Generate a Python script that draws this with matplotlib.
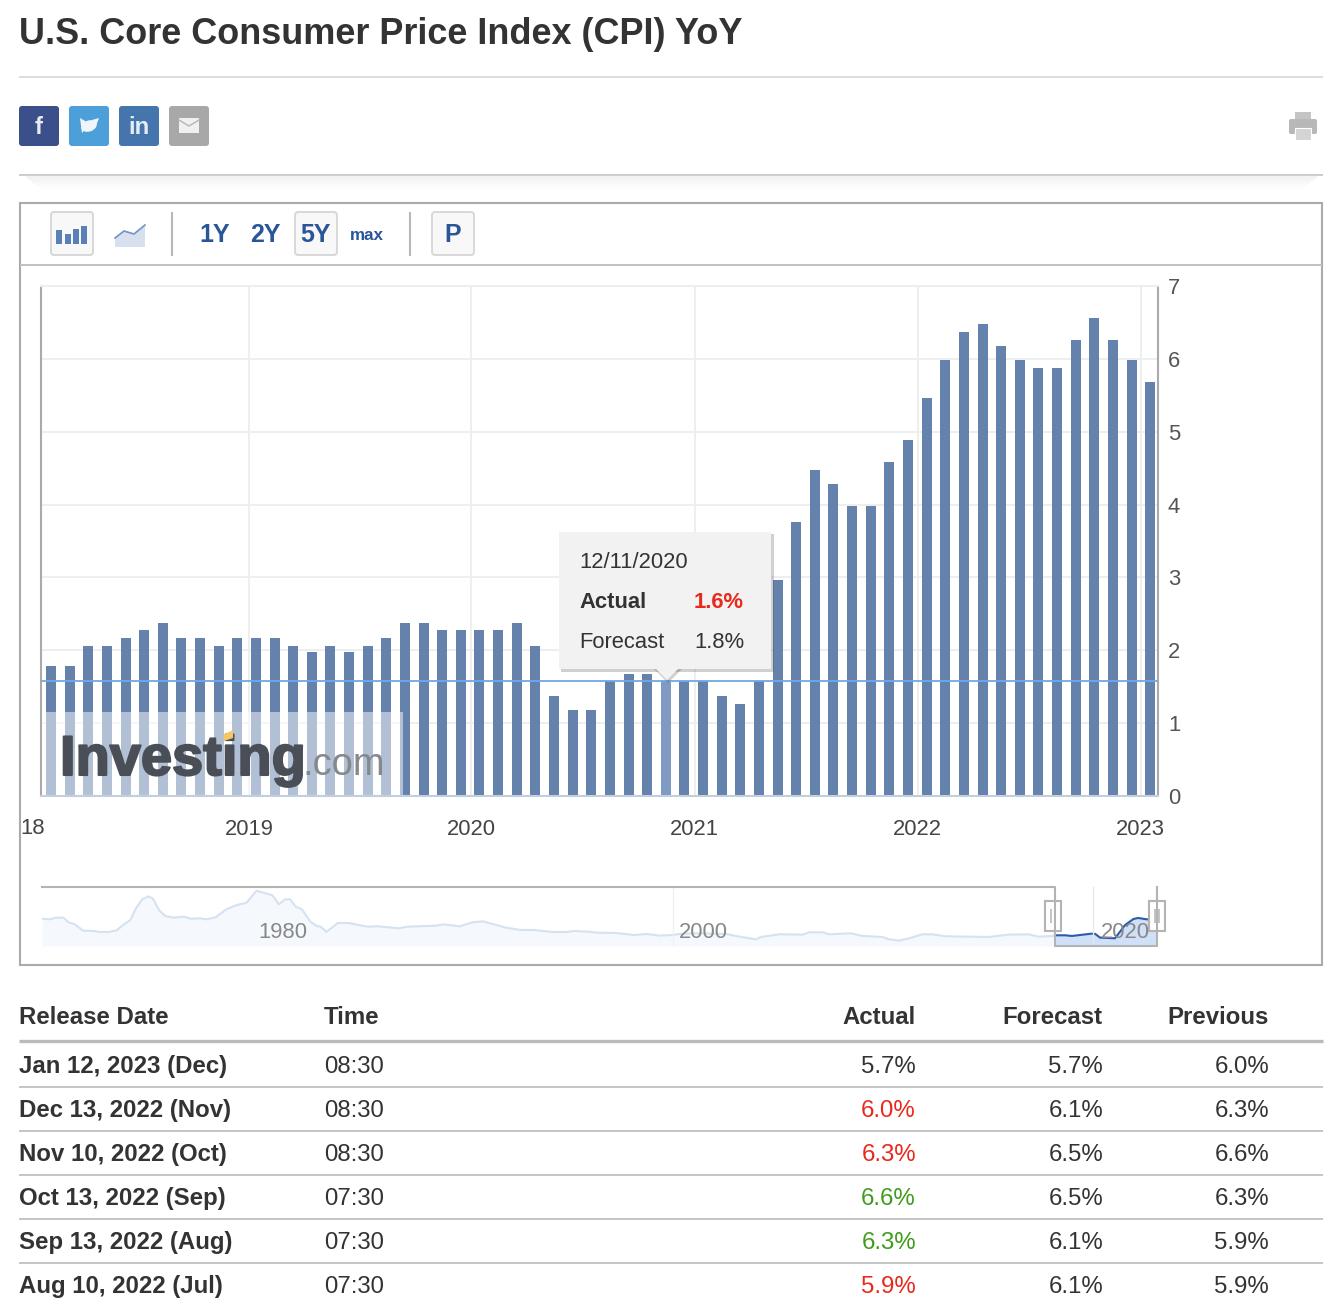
import matplotlib
matplotlib.use("Agg")
import matplotlib.pyplot as plt
import matplotlib.patheffects as pe
import numpy as np
from matplotlib.patches import Rectangle, FancyBboxPatch, Polygon, Ellipse

plt.rcParams['font.family'] = ['Liberation Sans', 'DejaVu Sans']

# monthly releases, evenly spaced on the chart, heights
release_dates = [
    "2018-02-14", "2018-03-13", "2018-04-11", "2018-05-10", "2018-06-12", "2018-07-12",
    "2018-08-10", "2018-09-13", "2018-10-11", "2018-11-14", "2018-12-12",
    "2019-01-11", "2019-02-13", "2019-03-12", "2019-04-10", "2019-05-10", "2019-06-12",
    "2019-07-11", "2019-08-13", "2019-09-12", "2019-10-10", "2019-11-13", "2019-12-11",
    "2020-01-14", "2020-02-13", "2020-03-11", "2020-04-10", "2020-05-12", "2020-06-10",
    "2020-07-14", "2020-08-12", "2020-09-11", "2020-10-13", "2020-11-12", "2020-12-10",
    "2021-01-13", "2021-02-10", "2021-03-10", "2021-04-13", "2021-05-12", "2021-06-10",
    "2021-07-13", "2021-08-11", "2021-09-14", "2021-10-13", "2021-11-10", "2021-12-10",
    "2022-01-12", "2022-02-10", "2022-03-10", "2022-04-12", "2022-05-11", "2022-06-10",
    "2022-07-13", "2022-08-10", "2022-09-13", "2022-10-13", "2022-11-10", "2022-12-13",
    "2023-01-12",
]
actual = [
    1.78, 1.78, 2.06, 2.06, 2.17, 2.28, 2.37, 2.17, 2.17, 2.06, 2.17,
    2.17, 2.17, 2.06, 1.98, 2.06, 1.98, 2.06, 2.17, 2.37, 2.37, 2.28, 2.28,
    2.28, 2.28, 2.37, 2.06, 1.37, 1.18, 1.18, 1.58, 1.67, 1.67, 1.58, 1.58,
    1.58, 1.37, 1.26, 1.58, 2.96, 3.76, 4.47, 4.28, 3.98, 3.98, 4.58, 4.89,
    5.46, 5.98, 6.37, 6.48, 6.18, 5.98, 5.87, 5.87, 6.26, 6.56, 6.26, 5.98,
    5.68,
]
highlight = "2020-11-12"
year_ticks = [10.63, 22.54, 34.56, 46.53, 58.5]
year_labels = ["2019", "2020", "2021", "2022", "2023"]
y_ticks = [0, 1, 2, 3, 4, 5, 6, 7]

# navigator series, long history
nav_years = [
    1969.95, 1970.31, 1970.61, 1970.97, 1971.21, 1971.51, 1971.91, 1972.41, 1972.71, 1973.11,
    1973.51, 1973.81, 1974.16, 1974.42, 1974.72, 1975.02, 1975.24, 1975.52, 1975.82, 1976.22,
    1976.72, 1977.02, 1977.52, 1977.76, 1978.22, 1978.72, 1979.23, 1979.69, 1980.17, 1980.93,
    1981.23, 1981.53, 1981.77, 1982.03, 1982.33, 1982.73, 1983.03, 1983.23, 1983.49, 1984.04,
    1984.54, 1985.44, 1985.94, 1986.94, 1987.34, 1988.74, 1989.04, 1989.85, 1990.45, 1990.95,
    1992.05, 1992.75, 1993.35, 1994.26, 1994.96, 1995.26, 1995.96, 1996.36, 1997.26, 1998.16,
    1998.76, 1999.37, 1999.99, 2000.31, 2001.10, 2002.53, 2003.16, 2003.95, 2004.19, 2005.06,
    2006.17, 2006.49, 2007.12, 2007.44, 2008.47, 2009.02, 2009.97, 2010.29, 2010.76, 2011.24,
    2011.87, 2012.34, 2012.98, 2015.04, 2015.99, 2016.94, 2017.41, 2018.19,
]
nav_values = [
    6.42, 6.25, 6.68, 6.68, 5.48, 4.97, 3.34, 3.26, 3.0, 3.0,
    3.43, 4.8, 6.08, 9.07, 11.38, 12.15, 11.55, 8.64, 7.1, 6.68,
    6.93, 6.42, 6.51, 6.25, 6.76, 8.81, 9.93, 10.52, 13.6, 12.4,
    10.1, 11.38, 11.38, 9.5, 8.81, 5.65, 4.54, 4.37, 3.0, 5.31,
    5.31, 4.37, 4.46, 3.94, 4.37, 4.63, 4.97, 4.46, 5.48, 5.74,
    4.11, 3.52, 3.52, 3.0, 3.0, 3.26, 3.09, 2.83, 2.75, 2.23,
    2.49, 2.06, 2.23, 2.49, 2.66, 2.49, 1.8, 1.12, 1.72, 2.4,
    2.32, 2.92, 2.92, 2.4, 2.66, 1.98, 1.72, 1.12, 0.78, 1.38,
    2.4, 2.4, 1.89, 1.72, 2.32, 2.4, 1.8, 2.0,
]
nav_recent_years = [2018.19, 2018.68, 2019.0, 2019.95, 2020.11, 2020.34, 2021.05, 2021.29, 2021.53,
                    2021.93, 2022.16, 2022.56, 2022.9, 2023.05]
nav_recent_values = [2.15, 2.15, 1.98, 2.58, 2.49, 1.55, 1.38, 3.09, 4.8, 6.34, 6.6, 6.25, 6.3, 5.8]

# table below the chart
table_dates = ["Jan 12, 2023 (Dec)", "Dec 13, 2022 (Nov)", "Nov 10, 2022 (Oct)",
               "Oct 13, 2022 (Sep)", "Sep 13, 2022 (Aug)", "Aug 10, 2022 (Jul)"]
table_times = ["08:30", "08:30", "08:30", "07:30", "07:30", "07:30"]
table_actual = ["5.7%", "6.0%", "6.3%", "6.6%", "6.3%", "5.9%"]
table_forecast = ["5.7%", "6.1%", "6.5%", "6.5%", "6.1%", "6.1%"]
table_previous = ["6.0%", "6.3%", "6.6%", "6.3%", "5.9%", "5.9%"]

W, H = 1324, 1312
DARK = "#333333"
RED = "#e8291c"
GREEN = "#3f9c1c"
BLUE = "#2a5599"
BAR = "#6482ab"
GREY = "#b3b3b3"


def px(size):
    return size * 0.72


def axes_box(left, top, right, bottom):
    return [left / W, (H - bottom) / H, (right - left) / W, (bottom - top) / H]


fig = plt.figure(figsize=(W / 100, H / 100), dpi=100, facecolor="white")

# main bars
ax = fig.add_axes(axes_box(41, 286, 1158, 796))
pos = np.arange(len(actual))
hi = release_dates.index(highlight)
colors = ["#7f9bc4" if i == hi else BAR for i in pos]
ax.bar(pos, actual, width=0.537, color=colors, zorder=2)
ax.axhline(actual[hi], color="#6fa8e8", lw=1.3, zorder=3)
ax.set_xlim(-0.537, 59.42)
ax.set_ylim(0, 7)
ax.set_xticks(year_ticks)
ax.set_xticklabels(year_labels)
ax.set_yticks(y_ticks)
ax.yaxis.tick_right()
ax.tick_params(axis="x", length=0, pad=px(23), labelsize=px(22), labelcolor="#444444")
ax.tick_params(axis="y", length=0, pad=px(10), labelsize=px(22), labelcolor="#555555")
ax.grid(True, color="#eeeeee", lw=1.4)
ax.set_axisbelow(True)
ax.spines["left"].set(color="#aaaaaa", lw=1.5)
ax.spines["right"].set(color="#aaaaaa", lw=1.5)
ax.spines["top"].set(color="#eeeeee", lw=1.4)
ax.spines["bottom"].set(color="#c0cfe0", lw=1.5)

# navigator
nav = fig.add_axes(axes_box(42, 887, 1157, 946))
nav.set_xlim(1969.95, 2023.05)
nav.set_ylim(-0.6, 14.56)
nav.fill_between(nav_years, nav_values, -0.6, color="#f5f9fe", lw=0)
nav.plot(nav_years, nav_values, color="#d5e2f0", lw=1.5)
nav.fill_between(nav_recent_years, nav_recent_values, -0.6, color="#d0e0f8", lw=0)
nav.plot(nav_recent_years, nav_recent_values, color="#2a5caa", lw=1.5)
nav.axvline(2000, color="#f0f0f0", lw=1)
nav.axvline(2020, color="#e8e8e8", lw=1)
nav.axis("off")

# everything around the chart, in pixel coordinates
ov = fig.add_axes([0, 0, 1, 1], zorder=5)
ov.set_xlim(0, W)
ov.set_ylim(H, 0)
ov.axis("off")
ov.patch.set_visible(False)


def hline(x0, x1, y, color, lw=1.4):
    ov.plot([x0, x1], [y, y], color=color, lw=lw, solid_capstyle="butt")


def vline(x, y0, y1, color, lw=1.4):
    ov.plot([x, x], [y0, y1], color=color, lw=lw, solid_capstyle="butt")


def rbox(x0, y0, x1, y1, face, edge="none", lw=0, rad=3):
    ov.add_patch(FancyBboxPatch((x0 + rad, y0 + rad), x1 - x0 - 2 * rad, y1 - y0 - 2 * rad,
                                boxstyle=f"round,pad={rad},rounding_size={rad}",
                                fc=face, ec=edge, lw=lw))


ov.text(19, 35, "U.S. Core Consumer Price Index (CPI) YoY", fontsize=px(36), fontweight="bold",
        color=DARK, va="center")
hline(19, 1323, 77, "#dddddd")

# share buttons
rbox(19, 106, 59, 146, "#3b4f8a")
rbox(69, 106, 109, 146, "#4d9fd9")
rbox(119, 106, 159, 146, "#4476ad")
rbox(169, 106, 209, 146, "#a8a8a8")
ov.text(39, 128, "f", color="#e8ecf4", fontsize=px(24), fontweight="bold", ha="center", va="center")
ov.add_patch(Ellipse((89, 126), 16, 11, angle=-20, fc="#eef6fc"))
ov.add_patch(Polygon([[80, 118], [90, 124], [82, 133]], fc="#eef6fc"))
ov.add_patch(Polygon([[92, 120], [99, 118], [96, 126]], fc="#eef6fc"))
ov.text(139, 128, "in", color="#e4ecf5", fontsize=px(24), fontweight="bold", ha="center", va="center")
ov.add_patch(Rectangle((179, 118), 20, 15, fc="#f0f0f0"))
ov.plot([179, 189, 199], [120, 126, 120], color="#b5b5b5", lw=1)

# print icon
ov.add_patch(Rectangle((1295, 112), 16, 8, fc="#c4c4c4"))
rbox(1289, 119, 1317, 134, "#b8b8b8", rad=2)
ov.add_patch(Rectangle((1295, 128), 16, 12, fc="#d4d4d4", ec="white", lw=0.8))

# divider with soft shadow
shades = ["#f0f0f0", "#f2f2f2", "#f4f4f4", "#f6f6f6", "#f8f8f8", "#fafafa", "#fcfcfc", "#fdfdfd"]
for i, c in enumerate(shades):
    hline(26 + i * 2, 1317 - i * 2, 177 + i * 1.5, c, lw=1.2)
hline(19, 1323, 175, "#cccccc")

# chart panel and toolbar
ov.add_patch(Rectangle((20, 203), 1302, 762, fc="none", ec="#aaaaaa", lw=1.5))
hline(20, 1322, 265, "#c0c0c0")
vline(172, 212, 256, "#b8b8b8", 1.5)
vline(410, 212, 256, "#b8b8b8", 1.5)
rbox(51, 212, 93, 255, "#f8f8f8", "#d8d8d8", 1.4)
rbox(295, 212, 337, 255, "#f8f8f8", "#d8d8d8", 1.4)
rbox(432, 212, 474, 255, "#f8f8f8", "#d8d8d8", 1.4)
for x, top in zip([56, 65, 73, 81], [230, 234, 229, 226]):
    ov.add_patch(Rectangle((x, top), 6, 244 - top, fc="#5b80b5"))
ov.add_patch(Polygon([[115, 244], [115, 238], [124, 231], [134, 234], [145, 225], [145, 247], [115, 247]],
                     fc="#d8e0ef"))
ov.plot([115, 124, 134, 145], [238, 231, 234, 225], color="#6f94c4", lw=1.2)
for x, label in zip([215, 265, 316], ["1Y", "2Y", "5Y"]):
    ov.text(x, 235, label, color=BLUE, fontsize=px(25), fontweight="bold", ha="center", va="center")
ov.text(367, 236, "max", color=BLUE, fontsize=px(17), fontweight="bold", ha="center", va="center")
ov.text(453, 235, "P", color=BLUE, fontsize=px(25), fontweight="bold", ha="center", va="center")

# cut-off first year label
ov.text(33, 828, "18", color="#444444", fontsize=px(22), ha="center", va="center")

# watermark
ov.add_patch(Rectangle((42, 712), 361, 83, fc="white", alpha=0.5, lw=0))
ov.text(60, 761, "Investing", color="#4a4f57", fontsize=px(56), fontweight="bold", va="center",
        path_effects=[pe.withStroke(linewidth=1.5, foreground="#4a4f57")])
ov.text(303, 765, ".com", color="#85888c", fontsize=px(38), va="center")
ov.add_patch(Polygon([[223, 735], [233, 730], [233, 738], [224, 741]], fc="#f5c765", zorder=4))

# tooltip
ov.add_patch(Rectangle((561, 534), 213, 138, fc="#444444", alpha=0.25, lw=0))
ov.add_patch(Polygon([[654, 669], [668, 683], [682, 669]], fc="#444444", alpha=0.25, lw=0))
ov.add_patch(Rectangle((559, 532), 212, 137, fc="#f2f2f2", lw=0))
ov.add_patch(Polygon([[655, 668], [667, 680], [679, 668]], fc="#f2f2f2", lw=0))
ov.text(579, 562, "12/11/2020", color=DARK, fontsize=px(22), va="center")
ov.text(579, 602, "Actual", color=DARK, fontsize=px(22), fontweight="bold", va="center")
ov.text(694, 602, "1.6%", color=RED, fontsize=px(22), fontweight="bold", va="center")
ov.text(579, 642, "Forecast", color=DARK, fontsize=px(22), va="center")
ov.text(694, 642, "1.8%", color=DARK, fontsize=px(22), va="center")

# navigator frame, labels and handles
ov.plot([42, 1055, 1055, 1157, 1157], [887, 887, 946, 946, 887], color=GREY, lw=1.5)
for x, label in zip([283, 703, 1125], ["1980", "2000", "2020"]):
    ov.text(x, 932, label, color="#888888", fontsize=px(22), ha="center", va="center")
for x in [1053, 1157]:
    ov.add_patch(Rectangle((x - 8, 901), 16, 30, fc="white", ec=GREY, lw=1.5))
    vline(x - 2, 909, 923, GREY, 1.1)
    vline(x + 2, 909, 923, GREY, 1.1)

# table
header_y = 1018
ov.text(19, header_y, "Release Date", color=DARK, fontsize=px(24), fontweight="bold", va="center")
ov.text(324, header_y, "Time", color=DARK, fontsize=px(24), fontweight="bold", va="center")
ov.text(916, header_y, "Actual", color=DARK, fontsize=px(24), fontweight="bold", va="center", ha="right")
ov.text(1103, header_y, "Forecast", color=DARK, fontsize=px(24), fontweight="bold", va="center", ha="right")
ov.text(1269, header_y, "Previous", color=DARK, fontsize=px(24), fontweight="bold", va="center", ha="right")
hline(19, 1323, 1041, "#bbbbbb", 2.4)

actual_colors = [DARK, RED, RED, GREEN, GREEN, RED]
for i in range(len(table_dates)):
    y = 1065 + i * 44
    ov.text(19, y + 2, table_dates[i], color=DARK, fontsize=px(24), fontweight="bold", va="center")
    ov.text(324, y + 2, table_times[i], color=DARK, fontsize=px(24), va="center")
    ov.text(916, y + 2, table_actual[i], color=actual_colors[i], fontsize=px(24), va="center", ha="right")
    ov.text(1103, y + 2, table_forecast[i], color=DARK, fontsize=px(24), va="center", ha="right")
    ov.text(1269, y + 2, table_previous[i], color=DARK, fontsize=px(24), va="center", ha="right")
    if i < len(table_dates) - 1:
        hline(19, 1323, y + 22, "#c4c4c4", 1.4)

fig.savefig("out.png", dpi=100)
